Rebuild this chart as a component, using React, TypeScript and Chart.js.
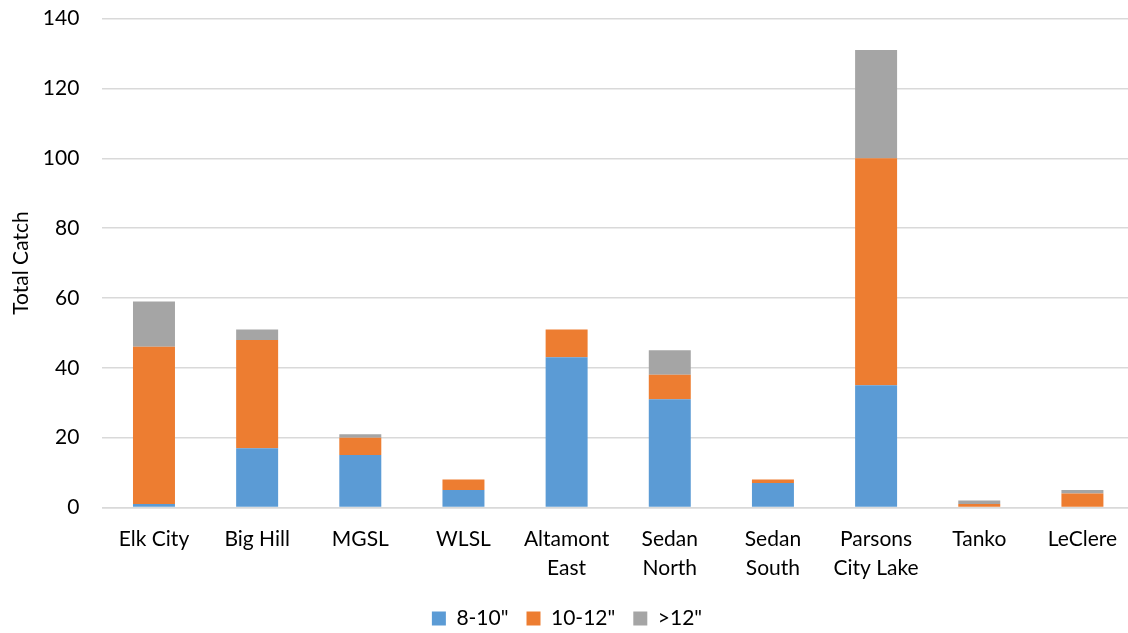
import React, { useEffect, useRef } from "react";
import { Chart, registerables } from "chart.js";

Chart.register(...registerables);

const categories: (string | string[])[] = [
  "Elk City",
  "Big Hill",
  "MGSL",
  "WLSL",
  ["Altamont", "East"],
  ["Sedan", "North"],
  ["Sedan", "South"],
  ["Parsons", "City Lake"],
  "Tanko",
  "LeClere",
];
const size8to10 = [1, 17, 15, 5, 43, 31, 7, 35, 0, 0];
const size10to12 = [45, 31, 5, 3, 8, 7, 1, 65, 1, 4];
const sizeOver12 = [13, 3, 1, 0, 0, 7, 0, 31, 1, 1];
const seriesLabels = ['8-10"', '10-12"', '>12"'];
const yTicks = { min: 0, max: 140, step: 20 };

const FONT = "Lato, 'Open Sans', sans-serif";

const legendShift = {
  id: "legendShift",
  afterLayout(chart: any) {
    if (chart.legend) {
      chart.legend.top += 6;
      chart.legend.bottom += 6;
    }
  },
};

export default function App() {
  const ref = useRef<HTMLCanvasElement | null>(null);
  useEffect(() => {
    document.body.style.margin = "0";
    const canvas = ref.current!;
    const chart = new Chart(canvas, {
      type: "bar",
      data: {
        labels: categories,
        datasets: [
          { label: seriesLabels[0], data: size8to10, backgroundColor: "#5B9BD5" },
          { label: seriesLabels[1], data: size10to12, backgroundColor: "#ED7D31" },
          { label: seriesLabels[2], data: sizeOver12, backgroundColor: "#A5A5A5" },
        ],
      },
      plugins: [legendShift],
      options: {
        responsive: false,
        animation: false,
        devicePixelRatio: 1,
        layout: { padding: { top: 1, left: 0, right: 8, bottom: 0 } },
        datasets: { bar: { categoryPercentage: 1, barPercentage: 0.407 } },
        plugins: {
          tooltip: { enabled: false },
          legend: {
            position: "bottom",
            labels: {
              boxWidth: 14,
              boxHeight: 14,
              padding: 18,
              color: "#000",
              font: { family: FONT, size: 21 },
            },
          },
        },
        scales: {
          x: {
            stacked: true,
            grid: { display: false, drawTicks: false },
            border: { display: true, color: "#D9D9D9", width: 1.5 },
            ticks: {
              color: "#000",
              padding: 17,
              maxRotation: 0,
              autoSkip: false,
              font: { family: FONT, size: 21, lineHeight: 1.4 },
            },
            afterFit: (s: any) => {
              s.height = 76.5;
            },
          },
          y: {
            stacked: true,
            min: yTicks.min,
            max: yTicks.max,
            grid: { color: "#D9D9D9", lineWidth: 1.5, drawTicks: false },
            border: { display: false },
            ticks: {
              stepSize: yTicks.step,
              color: "#000",
              padding: 23,
              font: { family: FONT, size: 21 },
            },
            title: {
              display: true,
              text: "Total Catch",
              color: "#000",
              padding: { top: 9, bottom: 0 },
              font: { family: FONT, size: 21 },
            },
            afterFit: (s: any) => {
              s.width = 102.4;
            },
          },
        },
      },
    });
    return () => chart.destroy();
  }, []);
  return (
    <div style={{ position: "absolute", left: 0, top: 0, width: 1128, height: 633, overflow: "hidden", background: "#fff" }}>
      <canvas
        ref={ref}
        width={1142}
        height={650}
        style={{ position: "absolute", left: 0, top: -17, width: 1142, height: 650, display: "block" }}
      />
    </div>
  );
}
